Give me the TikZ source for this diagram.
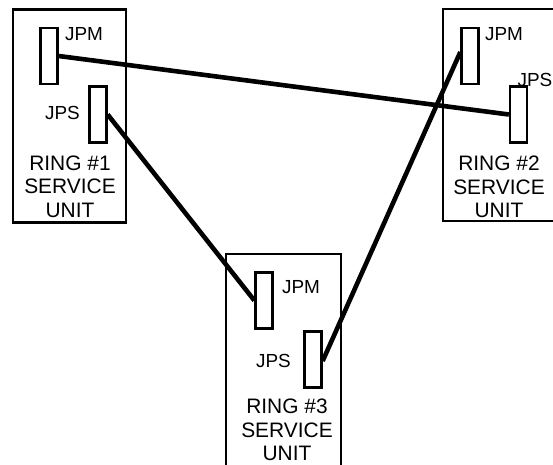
\documentclass[tikz,border=0pt]{standalone}
\usepackage{fontspec}
\setmainfont{Liberation Sans}
\usetikzlibrary{positioning}
\tikzset{
    unit/.style = {rectangle, draw=black, line width=2.5bp, minimum width=113bp, minimum height=213bp, inner sep=0pt},
    jack/.style = {rectangle, draw=black, line width=2.3bp, fill=white, minimum width=17bp, minimum height=56bp, inner sep=0pt},
    tag/.style = {inner sep=0pt, font=\fontsize{19}{19}\selectfont},
    ringtxt/.style = {align=center, inner sep=0pt, font=\fontsize{21}{23.5}\selectfont},
    cable/.style = {line width=4.6bp}
}

\begin{document}
\begin{tikzpicture}[x=1bp, y=-1bp]
  \useasboundingbox (0,0) rectangle (553,465);
  \clip (0,0) rectangle (553,465);

  % service units
  \node[unit] (unitA) at (69.5,116) {};
  \node[unit, minimum height=212bp] (unitB) at (499.5,115) {};
  \node[unit, minimum width=115bp, minimum height=230bp] (unitC) at (283.5,369) {};

  \node[ringtxt] (ringA) at (70,186.5) {RING \#1\\SERVICE\\UNIT};
  \node[ringtxt] (ringB) at (499,187) {RING \#2\\SERVICE\\UNIT};
  \node[ringtxt] (ringC) at (287,430) {RING \#3\\SERVICE\\UNIT};

  % jacks
  \node[jack] (jpmA) at (49,56) {};
  \node[jack] (jpsA) at (98,114.5) {};
  \node[jack] (jpmB) at (470,56) {};
  \node[jack] (jpsB) at (518.5,114.5) {};
  \node[jack] (jpmC) at (264,300.5) {};
  \node[jack] (jpsC) at (313,359.5) {};

  \node[tag] (lblpmA) at (84,34) {JPM};
  \node[tag] (lblpsA) at (62.5,112.5) {JPS};
  \node[tag] (lblpmB) at (504,34) {JPM};
  \node[tag] (lblpsB) at (535,80) {JPS};
  \node[tag] (lblpmC) at (301,287) {JPM};
  \node[tag] (lblpsC) at (273.5,361) {JPS};

  % cables
  \draw[cable] (jpmA.east) -- (jpsB.west);
  \draw[cable] (jpsA.east) -- (jpmC.west);
  \draw[cable] ([yshift=4bp]jpmB.west) -- ([yshift=-1.5bp]jpsC.east);

\end{tikzpicture}
\end{document}
